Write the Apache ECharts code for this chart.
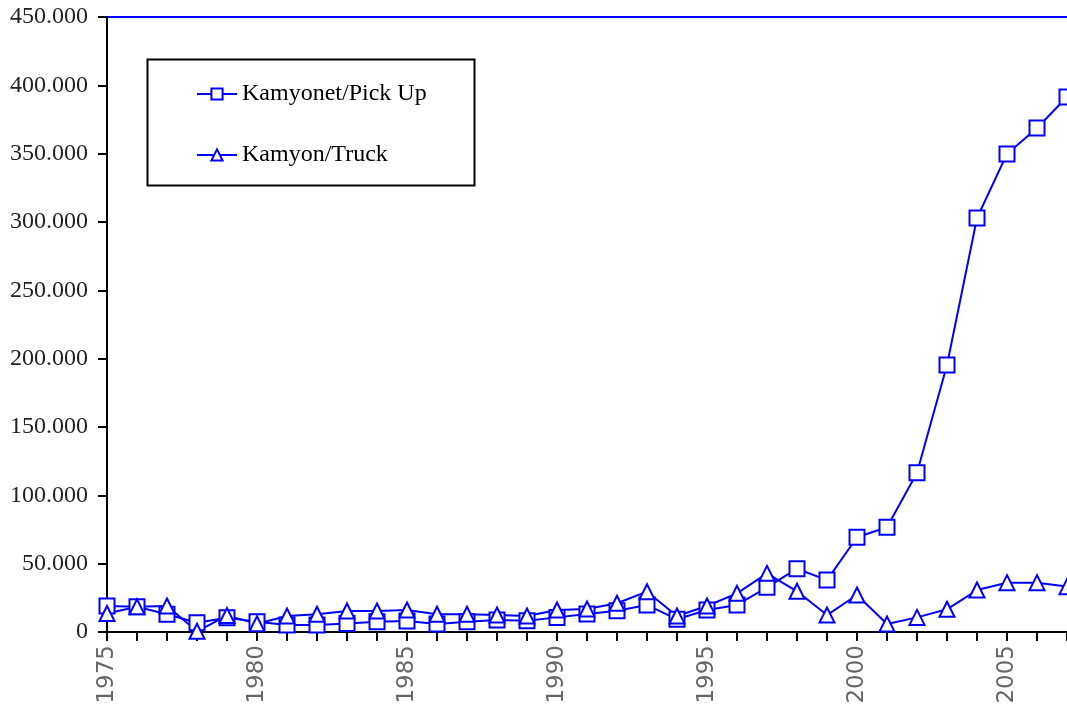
<!DOCTYPE html>
<html>
<head>
<meta charset="utf-8">
<script src="https://cdn.jsdelivr.net/npm/echarts@6/dist/echarts.min.js"></script>
<style>
html,body{margin:0;padding:0;background:#fff;}
#c{width:1067px;height:711px;}
</style>
</head>
<body>
<div id="c"></div>
<script>
var years = [1975,1976,1977,1978,1979,1980,1981,1982,1983,1984,1985,1986,1987,1988,1989,1990,1991,1992,1993,1994,1995,1996,1997,1998,1999,2000,2001,2002,2003,2004,2005,2006,2007];
var pickup = [19000,18500,13000,6800,10500,7500,5100,5100,6300,7500,8000,5800,7500,8800,8300,10700,13200,15600,19800,9300,16100,19800,32700,46300,38000,69300,76600,116600,195400,302900,349800,368800,391500];
var truck = [13500,18500,19000,500,12000,6000,11700,13000,15400,15400,16100,13000,13000,12400,11700,16100,16800,21000,29500,11700,19000,28300,42900,29800,12400,27100,5900,10700,16600,30700,36100,36100,33200];
var yTicks = [0,50000,100000,150000,200000,250000,300000,350000,400000,450000];
var seriesNames = ['Kamyonet/Pick Up','Kamyon/Truck'];

function pairs(vals){ return years.map(function(y,i){ return [y, vals[i]]; }); }
function fmt(v){ return String(v).replace(/\B(?=(\d{3})+(?!\d))/g,'.'); }

var chart = echarts.init(document.getElementById('c'), null, {renderer:'canvas'});
var blue = '#0000ff';
chart.setOption({
  backgroundColor:'#ffffff',
  animation:false,
  grid:{left:107, top:17, width:962, height:615},
  legend:{
    left:196, top:82, orient:'vertical', itemWidth:40, itemHeight:14, itemGap:37, padding:0,
    textStyle:{fontFamily:'Liberation Serif', fontSize:24, color:'#000'},
    data:seriesNames
  },
  graphic:[{type:'rect', left:145, top:57, shape:{width:327, height:126},
    style:{fill:'none', stroke:'#000', lineWidth:2}, z:10}],
  xAxis:[{
    type:'value', min:years[0], max:years[years.length-1], interval:1,
    axisLine:{show:true, onZero:false, lineStyle:{color:'#000', width:2}},
    axisTick:{show:true, length:9, lineStyle:{color:'#000', width:2}},
    splitLine:{show:false},
    axisLabel:{rotate:90, margin:13, color:'#666', fontFamily:'DejaVu Sans', fontSize:23,
      formatter:function(v){ return v % 5 === 0 ? String(v) : ''; }}
  },{
    type:'value', position:'top', min:years[0], max:years[years.length-1],
    axisLine:{show:true, onZero:false, lineStyle:{color:blue, width:2}},
    axisTick:{show:false}, axisLabel:{show:false}, splitLine:{show:false}
  }],
  yAxis:{
    type:'value', min:0, max:yTicks[yTicks.length-1], interval:50000,
    axisLine:{show:true, lineStyle:{color:'#000', width:2}},
    axisTick:{show:true, length:9, lineStyle:{color:'#000', width:2}},
    splitLine:{show:false},
    axisLabel:{margin:19, color:'#222', fontFamily:'Liberation Serif', fontSize:24,
      formatter:function(v){ return fmt(v); }}
  },
  series:[{
    name:seriesNames[0], type:'line', data:pairs(pickup),
    symbol:'rect', symbolSize:15, showAllSymbol:true,
    lineStyle:{color:blue, width:2},
    itemStyle:{color:'#fff', borderColor:blue, borderWidth:2}, clip:false
  },{
    name:seriesNames[1], type:'line', data:pairs(truck),
    symbol:'triangle', symbolSize:15, showAllSymbol:true,
    lineStyle:{color:blue, width:2},
    itemStyle:{color:'#fff', borderColor:blue, borderWidth:2}, clip:false
  }]
});
</script>
</body>
</html>
